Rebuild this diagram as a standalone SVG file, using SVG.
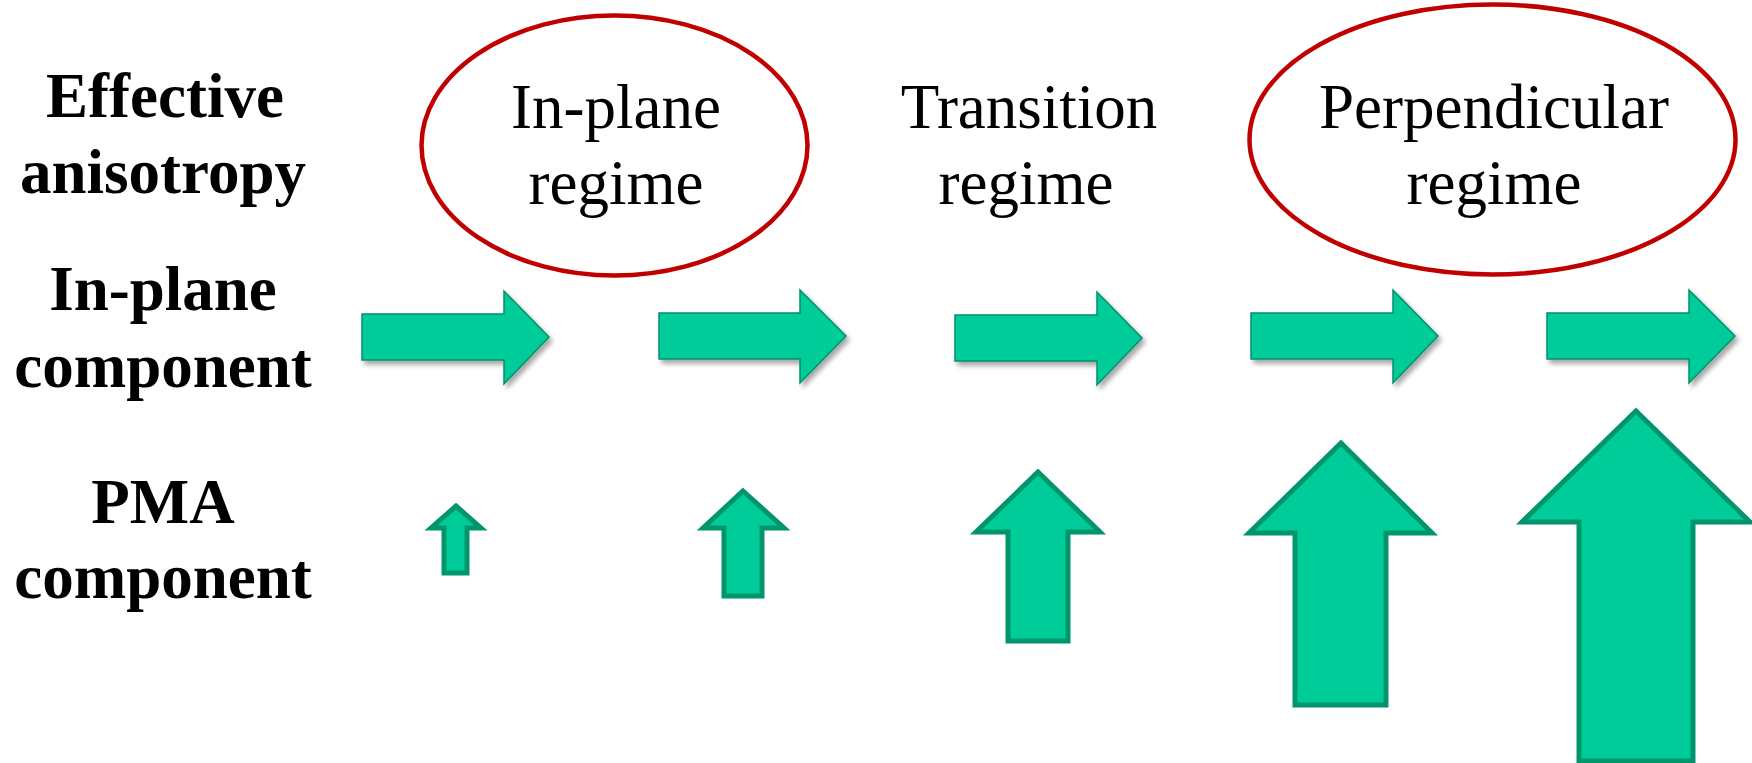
<svg xmlns="http://www.w3.org/2000/svg" width="1752" height="763" viewBox="0 0 1752 763">
<style>
.lbl{font-family:"Liberation Serif","Times New Roman",serif;font-weight:bold;font-size:63px;fill:#000;text-anchor:middle}
.reg{font-family:"Liberation Serif","Times New Roman",serif;font-size:63px;fill:#000;text-anchor:middle}
.ring{fill:none;stroke:#C00000;stroke-width:4.5}
.harr{fill:#00CC99;stroke:#00906A;stroke-width:1.5;filter:url(#sh)}
.varr{fill:#00CC99;stroke:#00956C;stroke-width:5}
</style>
<defs>
<filter id="sh" x="-10%" y="-20%" width="130%" height="150%">
<feGaussianBlur in="SourceAlpha" stdDeviation="2.5"/>
<feOffset dx="3" dy="4" result="b"/>
<feComponentTransfer><feFuncA type="linear" slope="0.35"/></feComponentTransfer>
<feMerge><feMergeNode/><feMergeNode in="SourceGraphic"/></feMerge>
</filter>
</defs>
<rect width="1752" height="763" fill="#fff"/>
<g id="row-labels">
<text class="lbl" x="165" y="117">Effective</text>
<text class="lbl" x="163" y="193">anisotropy</text>
<text class="lbl" x="163" y="310">In-plane</text>
<text class="lbl" x="163" y="387">component</text>
<text class="lbl" x="163" y="523">PMA</text>
<text class="lbl" x="163" y="598">component</text>
</g>
<g id="regime-inplane">
<ellipse class="ring" cx="614.5" cy="145.5" rx="193" ry="130"/>
<text class="reg" x="616" y="128">In-plane</text>
<text class="reg" x="616" y="204">regime</text>
</g>
<g id="regime-transition">
<text class="reg" x="1029" y="128">Transition</text>
<text class="reg" x="1026" y="204">regime</text>
</g>
<g id="regime-perpendicular">
<ellipse class="ring" cx="1492.5" cy="139.5" rx="243" ry="135"/>
<text class="reg" x="1494" y="128">Perpendicular</text>
<text class="reg" x="1494" y="204">regime</text>
</g>
<g id="inplane-arrows">
<polygon class="harr" points="362,314 504,314 504,291 549,337 504,384 504,360 362,360"/>
<polygon class="harr" points="659,313 800,313 800,290 846,336 800,383 800,359 659,359"/>
<polygon class="harr" points="955,315 1097,315 1097,292 1142,338 1097,385 1097,361 955,361"/>
<polygon class="harr" points="1251,313 1393,313 1393,290 1438,336 1393,383 1393,359 1251,359"/>
<polygon class="harr" points="1547,313 1689,313 1689,290 1735,336 1689,383 1689,359 1547,359"/>
</g>
<g id="pma-arrows">
<polygon class="varr" points="456,506 481,528 467,528 467,573 444,573 444,528 431,528"/>
<polygon class="varr" points="743,491 784,528 762,528 762,596 724,596 724,528 703,528"/>
<polygon class="varr" points="1038,472 1100,532 1068,532 1068,641 1008,641 1008,532 976,532"/>
<polygon class="varr" points="1341,443 1432,533 1386,533 1386,705 1295,705 1295,533 1249,533"/>
<polygon class="varr" points="1636,411 1750,522 1693,522 1693,761 1579,761 1579,522 1522,522"/>
</g>
</svg>
